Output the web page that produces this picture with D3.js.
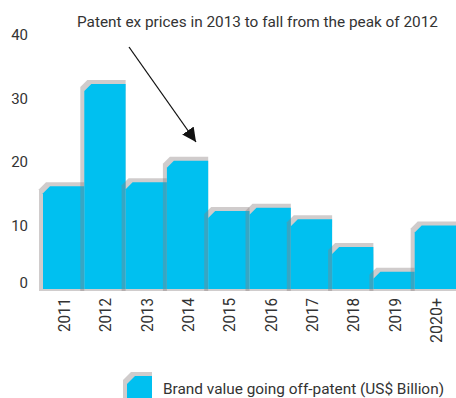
<!DOCTYPE html>
<html><head><meta charset="utf-8">
<script src="https://cdn.jsdelivr.net/npm/d3@7"></script>
<style>body{margin:0;background:#fff}svg{display:block}</style>
</head><body>
<script>
const categories = ["2011","2012","2013","2014","2015","2016","2017","2018","2019","2020+"];
const values = [16.2, 32.3, 16.8, 20.2, 12.3, 12.8, 11.0, 6.6, 2.7, 10.0];
const yTicks = [0, 10, 20, 30, 40];
const seriesName = "Brand value going off-patent (US$ Billion)";
const annotation = "Patent ex prices in 2013 to fall from the peak of 2012";

const W = 456, H = 398;
const svg = d3.select("body").append("svg").attr("width", W).attr("height", H);
const x = d3.scaleBand().domain(categories).range([43, 456]).padding(0);
const y = d3.scaleLinear().domain([0, 40]).range([289, 35]);
const font = "Roboto, sans-serif";
const txt = "#333";

function shape(x0, x1, yTop, yBot, c) {
  return `M${x0},${yBot}L${x0},${yTop + c}L${x0 + c},${yTop}L${x1},${yTop}L${x1},${yBot}Z`;
}

const g = svg.append("g");
categories.forEach((cat, i) => {
  const x0 = x(cat), x1 = x0 + x.bandwidth(), yt = y(values[i]), yb = y(0);
  g.append("path").attr("d", shape(x0 - 4, x1, yt - 4, yb + 2, 7))
    .attr("fill", "#8a7f7f").attr("fill-opacity", 0.4);
  g.append("path").attr("d", shape(x0, x1, yt, yb, 7)).attr("fill", "#00c0f0");
});

// y labels
svg.append("g").selectAll("text").data(yTicks).join("text")
  .attr("x", 28).attr("y", d => Math.min(y(d), y(0) - 6))
  .attr("text-anchor", "end").attr("dominant-baseline", "central")
  .attr("font-family", font).attr("font-size", 15).attr("fill", txt)
  .text(d => d);

// x labels
svg.append("g").selectAll("text").data(categories).join("text")
  .attr("transform", d => `translate(${x(d) + x.bandwidth() / 2 + 1},298) rotate(-90)`)
  .attr("text-anchor", "end").attr("dominant-baseline", "central")
  .attr("font-family", font).attr("font-size", 16).attr("fill", txt)
  .attr("textLength", d => d.length === 4 ? 34 : 45).attr("lengthAdjust", "spacingAndGlyphs")
  .text(d => d);

// annotation
svg.append("text").attr("x", 77).attr("y", 27)
  .attr("font-family", font).attr("font-size", 15.5).attr("fill", txt)
  .attr("textLength", 361).attr("lengthAdjust", "spacingAndGlyphs")
  .text(annotation);

svg.append("defs").append("marker").attr("id", "ah")
  .attr("viewBox", "0 0 10 10").attr("refX", 10).attr("refY", 5)
  .attr("markerWidth", 14).attr("markerHeight", 14).attr("markerUnits", "userSpaceOnUse")
  .attr("orient", "auto")
  .append("path").attr("d", "M0,0L10,5L0,10Z").attr("fill", "#111");
svg.append("line").attr("x1", 129).attr("y1", 47).attr("x2", 196).attr("y2", 142)
  .attr("stroke", "#111").attr("stroke-width", 1.3).attr("marker-end", "url(#ah)");

// legend
svg.append("path").attr("d", shape(123, 152, 372, 398, 8)).attr("fill", "#8a7f7f").attr("fill-opacity", 0.4);
svg.append("path").attr("d", shape(127, 152, 376, 398, 8)).attr("fill", "#00c0f0");
svg.append("text").attr("x", 163).attr("y", 389)
  .attr("dominant-baseline", "central")
  .attr("font-family", font).attr("font-size", 15.5).attr("fill", txt)
  .attr("textLength", 281).attr("lengthAdjust", "spacingAndGlyphs")
  .text(seriesName);
</script>
</body></html>
